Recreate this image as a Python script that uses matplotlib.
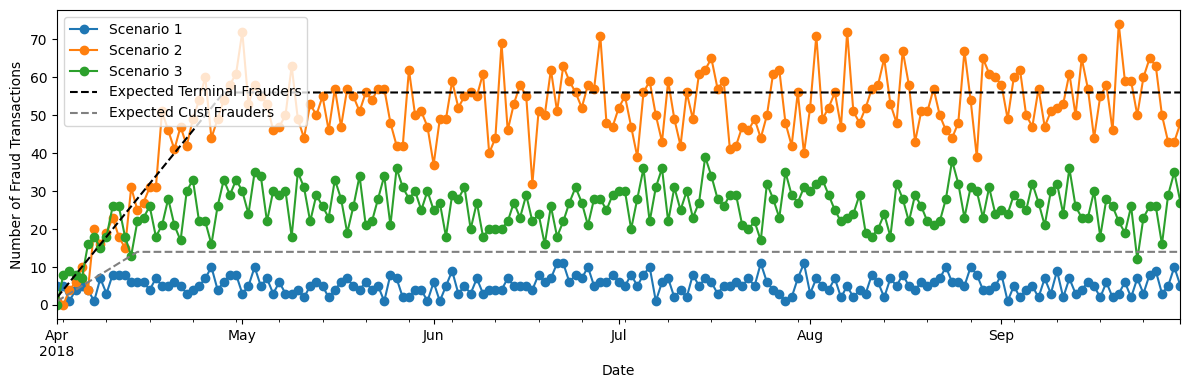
import matplotlib
matplotlib.use("Agg")
import matplotlib.pyplot as plt
import pandas as pd

dates = pd.date_range("2018-04-01", periods=183, freq="D")

scenario_1 = [
    5, 5, 1, 4, 5, 4, 1, 7, 3, 8, 8, 8, 6, 6, 6, 4, 7, 5, 5,
    6, 5, 3, 4, 5, 7, 10, 4, 6, 8, 8, 3, 5, 10, 5, 7, 3, 6,
    3, 3, 4, 2, 5, 6, 5, 2, 4, 6, 7, 5, 4, 6, 4, 5, 1, 8,
    7, 2, 2, 4, 4, 1, 6, 1, 5, 9, 3, 5, 3, 7, 3, 4, 4, 4,
    7, 5, 5, 5, 4, 8, 6, 7, 11, 11, 6, 8, 7, 10, 5, 6, 6, 8,
    6, 5, 8, 5, 8, 10, 1, 6, 7, 2, 4, 2, 8, 5, 7, 6, 3,
    5, 5, 6, 5, 7, 5, 11, 6, 4, 3, 1, 2, 7, 11, 3, 7, 5, 4,
    7, 2, 5, 2, 4, 3, 8, 6, 2, 7, 5, 8, 5, 4, 6, 5, 6, 7,
    10, 6, 6, 5, 10, 8, 4, 4, 5, 8, 1, 5, 2, 4, 5, 2, 7, 3,
    9, 2, 7, 3, 4, 6, 5, 2, 6, 2, 3, 6, 2, 7, 3, 8, 9, 3, 5, 10, 5,
]
scenario_2 = [
    1, 0, 4, 6, 10, 4, 20, 16, 19, 23, 18, 15, 31, 25, 27, 31, 31, 51, 46,
    41, 47, 42, 49, 54, 60, 44, 49, 54, 58, 61, 72, 53, 58, 55, 53, 46, 47,
    50, 63, 49, 44, 53, 50, 55, 46, 57, 47, 57, 55, 51, 56, 54, 57, 57, 48,
    42, 42, 62, 50, 51, 47, 37, 49, 49, 59, 52, 55, 56, 55, 61, 40, 44, 69,
    46, 53, 58, 55, 32, 51, 50, 62, 51, 63, 59, 56, 52, 58, 57, 71, 48, 47,
    52, 55, 47, 39, 56, 59, 50, 43, 59, 49, 42, 56, 49, 61, 62, 65, 57,
    59, 41, 42, 47, 46, 49, 44, 50, 61, 62, 48, 42, 56, 40, 52, 71, 49, 52,
    56, 47, 72, 51, 48, 52, 57, 58, 65, 53, 48, 67, 58, 43, 51, 51, 57, 50,
    46, 44, 48, 67, 54, 39, 65, 61, 60, 58, 49, 60, 62, 50, 47, 57, 47, 51,
    52, 53, 61, 50, 65, 57, 44, 55, 58, 46, 74, 59, 59, 50, 60, 65, 63, 50, 43, 43, 48,
]
scenario_3 = [
    0, 8, 9, 8, 7, 16, 18, 15, 18, 26, 26, 18, 13, 22, 23, 26, 18, 21, 28,
    21, 17, 30, 33, 22, 22, 16, 26, 33, 29, 33, 30, 24, 35, 34, 22, 30, 29,
    30, 18, 35, 31, 22, 29, 26, 23, 33, 28, 19, 26, 34, 21, 22, 28, 34, 21,
    36, 31, 28, 30, 25, 30, 25, 27, 18, 29, 28, 31, 20, 27, 18, 20, 20, 20,
    22, 27, 23, 29, 22, 24, 16, 26, 18, 22, 27, 31, 27, 21, 28, 28, 25, 29,
    30, 30, 20, 28, 36, 22, 31, 36, 22, 31, 25, 30, 23, 27, 39, 34, 28,
    26, 29, 29, 21, 20, 22, 17, 32, 28, 23, 35, 29, 27, 31, 30, 32, 33, 29,
    25, 22, 23, 24, 29, 19, 18, 20, 24, 18, 32, 28, 22, 29, 26, 22, 21, 22,
    28, 38, 32, 23, 31, 30, 23, 31, 24, 25, 24, 29, 27, 25, 32, 27, 21, 30,
    32, 24, 36, 26, 23, 23, 30, 18, 28, 26, 22, 19, 26, 12, 23, 26, 26, 16, 29, 35, 27,
]

# expected number of frauders: ramp-up then plateau (breakpoints only)
terminal_dates = ["2018-04-01", "2018-04-28", "2018-09-30"]
terminal_values = [2, 56, 56]
cust_dates = ["2018-04-01", "2018-04-14", "2018-09-30"]
cust_values = [1, 14, 14]

df = pd.DataFrame(
    {"Scenario 1": scenario_1, "Scenario 2": scenario_2, "Scenario 3": scenario_3},
    index=dates,
)

fig, ax = plt.subplots(figsize=(11.9, 3.9))
df.plot(ax=ax, marker="o")

# pandas daily axis works in period ordinals
term_x = [pd.Period(d, "D").ordinal for d in terminal_dates]
cust_x = [pd.Period(d, "D").ordinal for d in cust_dates]
ax.plot(term_x, terminal_values, "k--", label="Expected Terminal Frauders")
ax.plot(cust_x, cust_values, "--", color="grey", label="Expected Cust Frauders")

ax.set_xlabel("Date")
ax.set_ylabel("Number of Fraud Transactions")
ax.legend(loc="upper left")

fig.subplots_adjust(left=0.048, right=0.992, top=0.974, bottom=0.182)
fig.savefig("out.png", dpi=100)
plt.close(fig)
